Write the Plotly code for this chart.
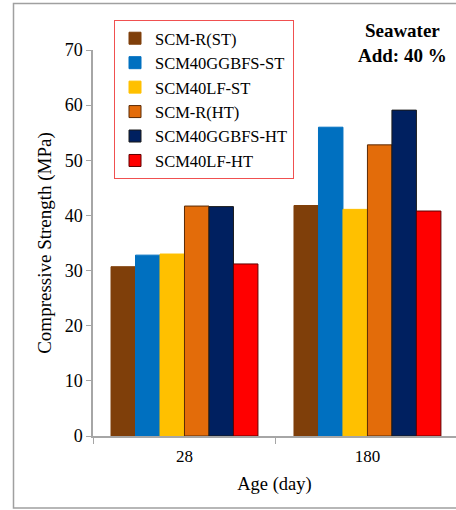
import plotly.graph_objects as go

ages = ["28", "180"]
series_names = ["SCM-R(ST)", "SCM40GGBFS-ST", "SCM40LF-ST", "SCM-R(HT)", "SCM40GGBFS-HT", "SCM40LF-HT"]
scm_r_st = [30.7, 41.8]
scm40ggbfs_st = [32.8, 56.0]
scm40lf_st = [33.0, 41.1]
scm_r_ht = [41.7, 52.8]
scm40ggbfs_ht = [41.6, 59.1]
scm40lf_ht = [31.2, 40.8]
values = [scm_r_st, scm40ggbfs_st, scm40lf_st, scm_r_ht, scm40ggbfs_ht, scm40lf_ht]

colors = ["#7F3F0A", "#0070C0", "#FFC000", "#E36C0A", "#002060", "#FF0000"]
line_colors = ["#7F3F0A", "#0070C0", "#FFC000", "#5A2A05", "#1A1A1A", "#600000"]

FONT = '"Liberation Serif", "Times New Roman", serif'

fig = go.Figure()
for name, vals, c, lc in zip(series_names, values, colors, line_colors):
    fig.add_trace(go.Bar(
        name=name, x=ages, y=vals,
        marker=dict(color=c, line=dict(color=lc, width=1)),
    ))

W, H = 456, 510
ml, mr, mt, mb = 93, 0, 50, 74
pw, ph = W - ml - mr, H - mt - mb

def px2x(px):
    return (px - ml) / pw

def py2y(py):
    return (H - mb - py) / ph

fig.update_layout(
    width=W, height=H,
    margin=dict(l=ml, r=mr, t=mt, b=mb),
    paper_bgcolor="white", plot_bgcolor="white",
    font=dict(family=FONT, size=17, color="black"),
    barmode="group", bargap=0.197, bargroupgap=0,
    showlegend=True,
    legend=dict(
        x=px2x(114), y=py2y(20), xanchor="left", yanchor="top",
        bordercolor="#F05050", borderwidth=1, bgcolor="white",
        font=dict(family=FONT, size=16.5, color="black"),
        tracegroupgap=0, itemwidth=30,
    ),
    xaxis=dict(
        type="category", range=[-0.5, 1.484],
        showline=True, linecolor="#A6A6A6", linewidth=1.5,
        ticks="outside", tickson="boundaries", ticklen=6, tickcolor="#A6A6A6",
        ticklabelstandoff=4,
        showgrid=False, zeroline=False,
        tickfont=dict(family=FONT, size=17),
        title=dict(text="Age (day)", font=dict(family=FONT, size=18.5), standoff=12),
    ),
    yaxis=dict(
        range=[0, 70], dtick=10,
        showline=True, linecolor="#A6A6A6", linewidth=1.5,
        ticks="outside", ticklen=5, tickcolor="#A6A6A6",
        showgrid=False, zeroline=False,
        tickfont=dict(family=FONT, size=18),
        title=dict(text="Compressive Strength (MPa)", font=dict(family=FONT, size=19), standoff=8),
    ),
    shapes=[dict(
        type="rect", xref="paper", yref="paper",
        x0=px2x(13.5), x1=px2x(470), y0=py2y(508), y1=py2y(3.5),
        line=dict(color="#A0A0A0", width=1.5), layer="below",
    )],
    annotations=[dict(
        text="<b>Seawater</b><br><b>Add: 40 %</b>",
        xref="paper", yref="paper", x=px2x(402), y=py2y(43),
        xanchor="center", yanchor="middle", showarrow=False, align="center",
        font=dict(family=FONT, size=19, color="black"),
    )],
)

fig.write_html("out.html")
